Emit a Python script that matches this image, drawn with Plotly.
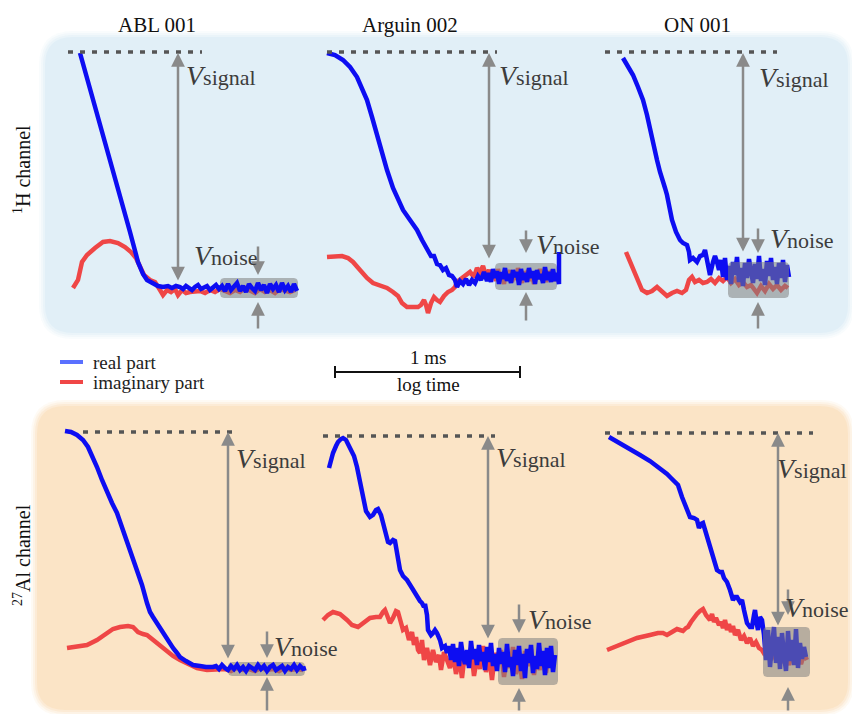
import numpy as np
import plotly.graph_objects as go

W, H = 852, 714
FONT = "Liberation Serif, Times New Roman, Times, serif"

# ---------------- text ----------------
titles = ["ABL 001", "Arguin 002", "ON 001"]
channels = ["<sup>1</sup>H channel", "<sup>27</sup>Al channel"]
legend_labels = ["real part", "imaginary part"]
scale_top = "1 ms"
scale_bottom = "log time"

# ---------------- data (log time a.u., signal a.u.) ----------------
# ABL 001, 1H
abl_h_real_t = [40, 50, 60, 70, 80, 90, 98, 103, 107, 112, 118, 123, 128, 132, 136,
                140, 143, 146, 149, 152, 155, 158, 161, 164, 167, 170, 173, 176, 179, 182,
                185, 188, 191, 194, 197, 200, 203, 206, 209, 212, 215, 218, 221, 224, 227,
                230, 233, 236, 239, 242, 245, 248, 251, 254, 257]
abl_h_real_v = [235, 200, 164, 128, 92, 56, 26, 14, 8, 5, 2, 1, 2, 0, 2,
                1, -1, 2, 0, -2, 1, 3, -1, 0, 2, -2, 1, 3, -1, 2,
                -3, 4, -2, 1, 5, -3, 2, -4, 4, 0, -3, 5, -2, 3, -5,
                4, -1, 3, -4, 5, -2, 2, -4, 4, -3]
abl_h_imag_t = [33, 38, 42, 47, 55, 63, 70, 78, 85, 91, 96, 100, 104, 110, 115, 120, 123, 127,
                131, 135, 138, 142, 146, 150, 155, 160, 165, 170, 175, 180, 185, 190, 195, 200,
                205, 210, 215, 220, 225, 230, 235, 240, 245, 250, 255]
abl_h_imag_v = [0, 8, 26, 33, 40, 46, 47, 45, 41, 36, 30, 22, 13, 8, 6, -2, -7, -2,
                -4, -1, -7, -2, -5, -4, -4, -3, -5, -2, -4, -1, -3, -5, -2, -4,
                0, -3, -5, -1, -4, -2, -5, -1, -3, -4, -2]

# Arguin 002, 1H
arg_h_real_t = [9, 17, 25, 32, 39, 44, 49, 54, 59, 64, 69, 75, 80, 85, 92, 99, 104, 109, 113,
                116, 119, 122, 125, 128, 131, 134, 137, 139, 142, 145, 148, 151, 154, 157, 160,
                163, 166, 169,
                171, 173, 175, 177, 179, 181, 183, 185, 187, 189, 191, 193, 195, 197, 199, 201,
                203, 205, 207, 209, 211, 213, 215, 217, 219, 221, 223, 225, 227, 229, 231, 233,
                235, 237, 239, 241, 241]
arg_h_real_v = [223, 221, 216, 209, 199, 188, 176, 159, 141, 123, 106, 88, 76, 66, 56, 46, 36, 26, 20,
                20, 12, 11, 6, 8, 1, 0, -4, -11, -5, -8, -3, -9, -4, -7, 0,
                -4, 4, -5,
                3, -6, 7, -2, 5, -8, 4, -3, 8, -5, 2, -7, 6, -1, 4, -9,
                7, -4, 3, -6, 8, -2, 5, -8, 6, -3, 2, -7, 9, -4, 4, -6,
                7, -5, 3, -8, 24]
arg_h_imag_t = [9, 17, 24, 30, 35, 42, 49, 55, 62, 69, 75, 80, 84, 89, 95, 100, 103, 106, 108, 110,
                113, 116, 119, 122, 126, 130, 134, 137, 139, 142, 145, 148, 152, 156, 159, 162,
                165, 168, 171, 174,
                176, 178, 180, 182, 184, 186, 188, 190, 192, 194, 196, 198, 200, 202, 204, 206,
                208, 210, 212, 214, 216, 218, 220, 222, 224, 226, 228, 230, 232, 234, 236, 238]
arg_h_imag_v = [19, 20, 20, 18, 14, 6, -2, -7, -9, -12, -16, -20, -27, -31, -31, -31, -29, -24, -29, -37,
                -27, -21, -24, -26, -20, -16, -14, -11, -6, -4, -1, 1, 4, -1, 8, 4,
                10, 0, 6, -2,
                4, -5, 7, -3, 2, -8, 5, -2, 6, -6, 3, -4, 8, -1, -7, 5,
                -3, 6, -5, 2, -8, 4, -2, 7, -4, 1, -6, 5, -3, 6, -5, 2]

# ON 001, 1H
on_h_real_t = [23, 28, 33, 38, 43, 47, 50, 54, 57, 60, 62, 65, 67, 69, 72, 76, 80, 83, 87, 89,
               90, 93, 97, 100, 103, 105, 107, 110, 113, 115, 117, 119,
               121, 123, 125, 127, 129, 131, 133, 135, 137, 139, 141, 143, 145, 147, 149, 151,
               153, 155, 157, 159, 161, 163, 165, 167, 169, 171, 173, 175, 177, 179, 181, 183,
               185, 187, 189]
on_h_real_v = [214, 206, 197, 185, 172, 157, 142, 127, 112, 100, 92, 84, 77, 65, 52, 40, 32, 29, 27, 20,
               12, 14, 10, 16, 17, 22, 10, -3, 10, 16, 10, 2,
               12, -5, 14, -8, 6, -12, 10, -3, 15, -10, 4, -14, 9, -6, 13, -2,
               -11, 8, -7, 16, -9, 3, -13, 11, -4, 14, -8, 5, -12, 9, -6, 12,
               -10, 7, -5]
on_h_imag_t = [26, 30, 34, 38, 42, 47, 52, 57, 62, 67, 72, 77, 82, 86, 89, 92, 95, 99, 103, 107,
               111, 115, 119, 123, 127, 131, 135, 139, 143, 147, 151, 155, 157, 161, 165, 169,
               173, 177, 181, 185, 188]
on_h_imag_v = [20, 10, 0, -10, -18, -21, -19, -15, -20, -24, -21, -19, -21, -18, -8, -5, -10, -8, -11, -10,
               -7, -11, -6, -9, -5, -11, -7, -13, -10, -15, -13, -18, -21, -14, -19, -12,
               -17, -13, -18, -14, -16]

# ABL 001, 27Al
abl_al_real_t = [25, 31, 37, 43, 48, 52, 57, 62, 67, 72, 77, 82, 87, 92, 97, 102, 107, 110, 113, 118,
                 123, 128, 133, 137, 140, 146, 153, 160, 166, 173,
                 176, 179, 182, 185, 188, 191, 194, 197, 200, 203, 206, 209, 212, 215, 218, 221,
                 224, 227, 230, 233, 236, 239, 242, 245, 248, 251, 254, 257, 260, 263, 266]
abl_al_real_v = [237, 236, 233, 228, 221, 213, 201, 188, 175, 165, 155, 141, 125, 111, 98, 83, 65, 56, 51, 43,
                 35, 28, 20, 15, 11, 7, 3, 2, 1, 1,
                 2, -1, 3, 0, -2, 2, -1, 3, -2, 1, -3, 2, 0, -2, 3, -1,
                 2, -3, 1, 3, -2, 0, 2, -3, 1, -1, 3, -2, 2, -1, 0]
abl_al_imag_t = [27, 37, 47, 57, 67, 73, 80, 88, 93, 98, 103, 107, 112, 117, 122, 127, 133, 140, 148, 157,
                 167, 177, 185, 191, 197, 203, 209, 215, 221, 227, 233, 239, 245, 251, 257, 263]
abl_al_imag_v = [20, 21, 23, 28, 35, 39, 41, 42, 41, 36, 34, 33, 29, 25, 20, 16, 12, 8, 4, 0,
                 -2, -2, -1, -3, 0, -2, -1, -3, 0, -2, -1, -3, 0, -2, -1, -2]

# Arguin 002, 27Al
arg_al_real_t = [11, 13, 15, 18, 20, 23, 25, 28, 32, 36, 39, 42, 45, 48, 52, 55, 58, 60, 63, 66,
                 68, 70, 72, 75, 77, 79, 82, 85, 89, 94, 99, 102, 104, 106, 107, 109, 110, 113, 115, 117,
                 119, 122, 124, 127, 129,
                 131, 133, 135, 137, 139, 141, 143, 145, 147, 149, 151, 153, 155, 157, 159, 161,
                 163, 165, 167, 169, 171, 173, 175, 177, 179, 181, 183, 185, 187, 189, 191, 193,
                 195, 197, 199, 201, 203, 205, 207, 209, 211, 213, 215, 217, 219, 221, 223, 225,
                 227, 229, 231, 233, 235, 237]
arg_al_real_v = [192, 200, 207, 214, 218, 221, 222, 220, 213, 204, 193, 178, 160, 149, 143, 145, 150, 151, 145, 133,
                 125, 118, 117, 120, 119, 105, 90, 84, 80, 72, 63, 59, 57, 53, 56, 45, 30, 25, 27, 30,
                 27, 20, 12, 14, 7,
                 14, 0, 16, -2, 12, -6, 18, 4, -4, 10, -8, 19, 1, 11, -5, 15,
                 -1, 8, -10, 13, -2, 17, -6, 6, -11, 12, -4, 8, -12, 16, -7, 3,
                 -16, 10, -5, 14, -11, 6, -18, 11, -3, 15, -13, 4, -9, 17, -6, 9,
                 -15, 12, -8, 14, -12, 5]
arg_al_imag_t = [5, 10, 15, 22, 29, 34, 40, 46, 52, 58, 62, 65, 67, 69, 72, 75, 78, 80, 82, 85,
                 88, 91, 94, 96, 98, 100, 102, 104, 106, 109, 112, 115, 118, 121, 123, 126, 129,
                 132, 135, 138, 141, 144, 147, 150, 153, 156, 159, 162, 165, 168, 171, 174, 177,
                 180, 183, 186, 189, 192, 195, 198, 201, 204, 207, 210, 213, 216, 219, 222, 225,
                 228, 231, 234]
arg_al_imag_v = [40, 45, 48, 46, 40, 35, 33, 38, 42, 43, 43, 48, 50, 45, 37, 42, 49, 48, 40, 30,
                 32, 20, 28, 15, 23, 10, 7, 20, 0, 12, -5, 10, -2, 5, -10, 8, 0,
                 -8, 6, -14, 3, -18, 8, -5, 12, -16, 2, -9, 14, -12, 5, -20, 7,
                 -3, 10, -17, 4, -8, 13, -14, 1, -19, 9, -6, 11, -15, 3, -10, 8,
                 -13, 5, -7]

# ON 001, 27Al
on_al_real_t = [9, 20, 30, 40, 50, 60, 67, 71, 75, 78, 82, 86, 90, 94, 97, 99, 101, 103, 106, 110,
                113, 117, 120, 122, 124, 127, 130, 133, 135, 137, 140, 142, 144, 147, 150, 152, 154, 155,
                157, 158, 160, 162,
                164, 166, 168, 170, 172, 174, 176, 178, 180, 182, 184, 186, 188, 190, 192, 194,
                196, 198, 200, 202, 204, 206]
on_al_real_v = [218, 212, 206, 200, 194, 187, 181, 177, 173, 170, 158, 147, 138, 137, 135, 127, 131, 132, 122, 108,
                97, 85, 83, 83, 77, 73, 65, 55, 58, 58, 53, 55, 45, 32, 28, 28, 40, 45,
                30, 25, 38, 35,
                20, -5, 25, -12, 10, 28, -8, 18, -14, 22, 0, -16, 24, -6, 15, -10,
                26, -13, 12, -4, 8, -2]
on_al_imag_t = [7, 20, 37, 50, 58, 63, 67, 72, 77, 80, 83, 86, 88, 91, 94, 97, 100, 103, 106, 108,
                110, 112, 114, 116, 119, 121, 123, 125, 127, 129, 131, 133, 135, 138, 141, 144, 147, 150,
                153, 156, 159, 162, 165, 168, 171, 174, 177, 180, 183, 186, 189, 192, 195, 198, 201,
                204, 207]
on_al_imag_v = [5, 10, 17, 20, 22, 22, 20, 23, 26, 25, 24, 27, 28, 33, 38, 41, 44, 46, 40, 38,
                35, 41, 33, 37, 30, 33, 27, 35, 25, 31, 23, 29, 20, 25, 15, 19, 12, 17,
                9, 13, 7, 5, 0, 7, -5, 3, -7, 5, -8, 0, -10, 3, -7, -1, -9,
                1, -5]

# ---------------- styles / layout geometry ----------------
BLUE = "#0d0df2"
RED = "#ef4646"
ARROW = "#8a8a8a"
LABEL = "#3c3c3c"
LW = 4.5

col_px = [(40, 318), (318, 600), (600, 852)]
row_px = [(38, 335), (405, 714)]

# label positions: (x, y, xanchor)
panels = [
    dict(row=0, col=0, real=(abl_h_real_t, abl_h_real_v), imag=(abl_h_imag_t, abl_h_imag_v),
         floor=288, dot=(28, 162, 236), sig=(138, 235, 6), sig_lab=(144, 213, "left"),
         noise_lab=(152, 33, "left"),
         narrow=(218, 43, 13, -42, -14), box=(180, 258, 10, -10), box_top=False),
    dict(row=0, col=1, real=(arg_h_real_t, arg_h_real_v), imag=(arg_h_imag_t, arg_h_imag_v),
         floor=276, dot=(9, 179, 224), sig=(171, 223, 16), sig_lab=(179, 201, "left"),
         noise_lab=(216, 32, "left"),
         narrow=(208, 47, 23, -46, -16), box=(177, 239, 13, -14), box_top=False),
    dict(row=0, col=2, real=(on_h_real_t, on_h_real_v), imag=(on_h_imag_t, on_h_imag_v),
         floor=272, dot=(5, 177, 220), sig=(143, 219, 19), sig_lab=(157, 195, "left"),
         noise_lab=(168, 34, "left"),
         narrow=(158, 45, 19, -58, -30), box=(128, 189, 10, -26), box_top=True),
    dict(row=1, col=0, real=(abl_al_real_t, abl_al_real_v), imag=(abl_al_imag_t, abl_al_imag_v),
         floor=668, dot=(43, 195, 236), sig=(188, 236, 8), sig_lab=(194, 210, "left"),
         noise_lab=(232, 22, "left"),
         narrow=(227, 38, 10, -44, -9), box=(188, 265, 6, -8), box_top=False),
    dict(row=1, col=1, real=(arg_al_real_t, arg_al_real_v), imag=(arg_al_imag_t, arg_al_imag_v),
         floor=660, dot=(5, 177, 224), sig=(170, 224, 20), sig_lab=(176, 203, "left"),
         noise_lab=(208, 41, "left"),
         narrow=(201, 57, 27, -52, -28), box=(180, 240, 22, -25), box_top=False),
    dict(row=1, col=2, real=(on_al_real_t, on_al_real_v), imag=(on_al_imag_t, on_al_imag_v),
         floor=655, dot=(5, 213, 222), sig=(178, 222, 28), sig_lab=(249, 187, "right"),
         noise_lab=(251, 48, "right"),
         narrow=(188, 67, 40, -57, -32), box=(163, 210, 28, -22), box_top=True),
]


def px(x):
    return x / W


def py(y):
    return 1 - y / H


def rrect_path(x0, y0, x1, y1, r):
    return (f"M {px(x0 + r)},{py(y0)} L {px(x1 - r)},{py(y0)} Q {px(x1)},{py(y0)} {px(x1)},{py(y0 + r)} "
            f"L {px(x1)},{py(y1 - r)} Q {px(x1)},{py(y1)} {px(x1 - r)},{py(y1)} "
            f"L {px(x0 + r)},{py(y1)} Q {px(x0)},{py(y1)} {px(x0)},{py(y1 - r)} "
            f"L {px(x0)},{py(y0 + r)} Q {px(x0)},{py(y0)} {px(x0 + r)},{py(y0)} Z")


def rounded_box(x0, x1, ya, yb, r=4, n=6):
    y0, y1 = min(ya, yb), max(ya, yb)
    xs, ys = [], []
    corners = [(x1 - r, y1 - r, 0, 90), (x0 + r, y1 - r, 90, 180),
               (x0 + r, y0 + r, 180, 270), (x1 - r, y0 + r, 270, 360)]
    for cx, cy, a0, a1 in corners:
        for a in np.linspace(np.radians(a0), np.radians(a1), n):
            xs.append(cx + r * np.cos(a))
            ys.append(cy + r * np.sin(a))
    xs.append(xs[0])
    ys.append(ys[0])
    return xs, ys


fig = go.Figure()
shapes = []
annotations = []

# soft rounded backgrounds
for (x0, y0, x1, y1, col) in [(45, 37, 848, 333, (225, 239, 247)), (37, 406, 848, 710, (251, 228, 198))]:
    for grow, alpha in [(6, 0.2), (4, 0.3), (2, 0.5), (0, 1.0)]:
        shapes.append(dict(type="path", xref="paper", yref="paper", layer="below",
                           path=rrect_path(x0 - grow, y0 - grow, x1 + grow, y1 + grow, 28 + grow),
                           fillcolor=f"rgba({col[0]},{col[1]},{col[2]},{alpha})", line=dict(width=0)))

for i, p in enumerate(panels):
    xa = "x" if i == 0 else f"x{i + 1}"
    ya = "y" if i == 0 else f"y{i + 1}"
    lx0, lx1 = col_px[p["col"]]
    ty, by = row_px[p["row"]]
    fl = p["floor"]
    fig.layout[("xaxis" if i == 0 else f"xaxis{i + 1}")] = dict(
        domain=[px(lx0), px(lx1)], range=[0, lx1 - lx0], visible=False, fixedrange=True, anchor=ya)
    fig.layout[("yaxis" if i == 0 else f"yaxis{i + 1}")] = dict(
        domain=[py(by), py(ty)], range=[fl - by, fl - ty], visible=False, fixedrange=True, anchor=xa)

    bx, by_ = rounded_box(*p["box"])
    box_tr = go.Scatter(x=bx, y=by_, xaxis=xa, yaxis=ya, mode="lines", fill="toself",
                        fillcolor="rgba(128,128,128,0.55)", line=dict(width=0), hoverinfo="skip",
                        showlegend=False)
    imag_tr = go.Scatter(x=p["imag"][0], y=p["imag"][1], xaxis=xa, yaxis=ya, mode="lines",
                         line=dict(color=RED, width=LW), hoverinfo="skip", showlegend=False)
    real_tr = go.Scatter(x=p["real"][0], y=p["real"][1], xaxis=xa, yaxis=ya, mode="lines",
                         line=dict(color=BLUE, width=LW), hoverinfo="skip", showlegend=False)
    if p["box_top"]:
        fig.add_traces([imag_tr, real_tr, box_tr])
    else:
        fig.add_traces([imag_tr, box_tr, real_tr])

    # dotted reference line
    d0, d1, dy = p["dot"]
    shapes.append(dict(type="line", xref=xa, yref=ya, x0=d0, x1=d1, y0=dy, y1=dy, layer="above",
                       line=dict(color="#555555", width=3.5, dash="5px,7px")))

    # V_signal double arrow
    sx, stop, sbot = p["sig"]
    annotations.append(dict(xref=xa, yref=ya, axref=xa, ayref=ya, x=sx, y=stop, ax=sx, ay=sbot,
                            text="", showarrow=True, arrowhead=2, startarrowhead=2,
                            arrowside="end+start", arrowsize=1.1, startarrowsize=1.1,
                            arrowwidth=2.5, arrowcolor=ARROW, standoff=0, startstandoff=0))
    # noise arrows
    nx, dt, dh, ut, uh = p["narrow"]
    annotations.append(dict(xref=xa, yref=ya, axref=xa, ayref=ya, x=nx, y=dh, ax=nx, ay=dt,
                            text="", showarrow=True, arrowhead=2, arrowsize=1.1, arrowwidth=2.5,
                            arrowcolor=ARROW, standoff=0))
    annotations.append(dict(xref=xa, yref=ya, axref=xa, ayref=ya, x=nx, y=uh, ax=nx, ay=ut,
                            text="", showarrow=True, arrowhead=2, arrowsize=1.1, arrowwidth=2.5,
                            arrowcolor=ARROW, standoff=0))
    # labels
    for (lx, ly, anc), word in [(p["sig_lab"], "signal"), (p["noise_lab"], "noise")]:
        annotations.append(dict(xref=xa, yref=ya, x=lx, y=ly, xanchor=anc, yanchor="middle",
                                showarrow=False,
                                text=f'<span style="font-size:28px"><i>V</i></span>{word}',
                                font=dict(family=FONT, size=22, color=LABEL)))

# column titles
for t, cx in zip(titles, [157, 410, 697]):
    annotations.append(dict(xref="paper", yref="paper", x=px(cx), y=py(25), text=t, showarrow=False,
                            xanchor="center", yanchor="middle", font=dict(family=FONT, size=21, color="#111")))

# channel labels
for t, cy in zip(channels, [170, 555]):
    annotations.append(dict(xref="paper", yref="paper", x=px(22), y=py(cy), text=t, showarrow=False,
                            textangle=-90, xanchor="center", yanchor="middle",
                            font=dict(family=FONT, size=20, color="#111")))

# legend
for lab, col, ly in zip(legend_labels, ["#5a70ff", "#f04646"], [362, 382]):
    shapes.append(dict(type="line", xref="paper", yref="paper", x0=px(60), x1=px(83), y0=py(ly), y1=py(ly),
                       line=dict(color=col, width=4)))
    annotations.append(dict(xref="paper", yref="paper", x=px(91), y=py(ly), text=lab, showarrow=False,
                            xanchor="left", yanchor="middle", font=dict(family=FONT, size=19, color="#222")))

# scale bar
shapes.append(dict(type="line", xref="paper", yref="paper", x0=px(335), x1=px(520), y0=py(372), y1=py(372),
                   line=dict(color="#111", width=2)))
for sx in [335, 520]:
    shapes.append(dict(type="line", xref="paper", yref="paper", x0=px(sx), x1=px(sx), y0=py(366), y1=py(378),
                       line=dict(color="#111", width=2)))
annotations.append(dict(xref="paper", yref="paper", x=px(428), y=py(357), text=scale_top, showarrow=False,
                        xanchor="center", yanchor="middle", font=dict(family=FONT, size=19, color="#111")))
annotations.append(dict(xref="paper", yref="paper", x=px(428), y=py(384), text=scale_bottom, showarrow=False,
                        xanchor="center", yanchor="middle", font=dict(family=FONT, size=19, color="#111")))

fig.update_layout(width=W, height=H, margin=dict(l=0, r=0, t=0, b=0), paper_bgcolor="white",
                  plot_bgcolor="rgba(0,0,0,0)", shapes=shapes, annotations=annotations, showlegend=False)

fig.write_html("out.html")
